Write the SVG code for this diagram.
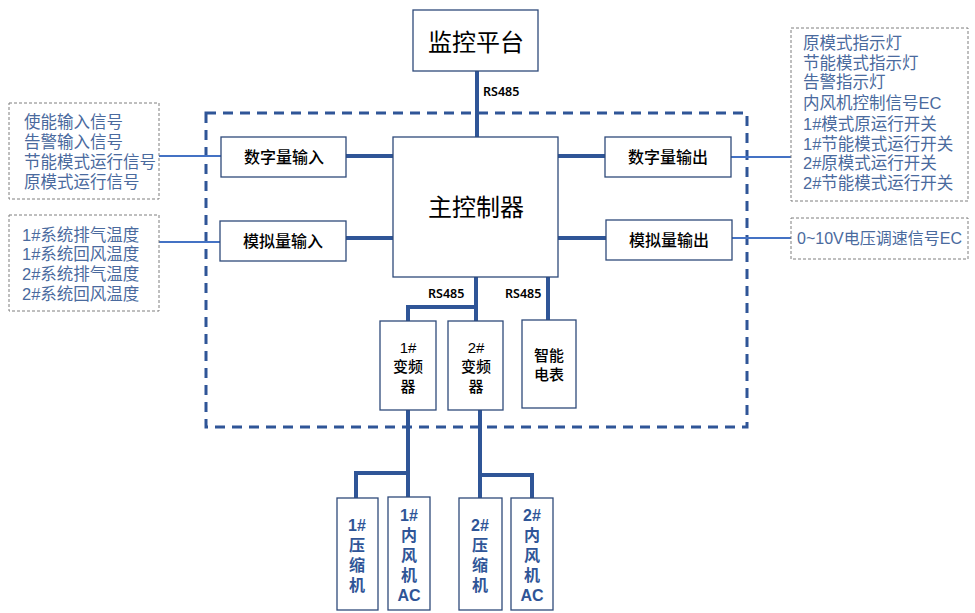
<svg xmlns="http://www.w3.org/2000/svg" width="975" height="613" viewBox="0 0 975 613">
<style>
.bg{fill:#fff}
.box{fill:#fff;stroke:#2F4A7A;stroke-width:1.3}
.sig{fill:#fff;stroke:#7F7F7F;stroke-width:1;stroke-dasharray:3 2}
.outer{fill:none;stroke:#2F5597;stroke-width:3;stroke-dasharray:10 7}
.thick{fill:none;stroke:#2F5597;stroke-width:4}
.thin{fill:none;stroke:#4472C4;stroke-width:2}
.big{font-family:"Noto Sans CJK SC",sans-serif;font-size:24px;fill:#000;text-anchor:middle}
.mid{font-family:"Noto Sans CJK SC",sans-serif;font-size:16px;font-weight:500;fill:#000;text-anchor:middle}
.small{font-family:"Liberation Sans","Noto Sans CJK SC",sans-serif;font-size:15px;font-weight:500;fill:#000;text-anchor:middle}
.list{font-family:"Liberation Sans","Noto Sans CJK SC",sans-serif;font-size:16.5px;fill:#4A6A9E}
.lbl{font-family:"Noto Sans",sans-serif;font-size:12.5px;font-weight:600;fill:#000}
.dev{font-family:"Liberation Sans","Noto Sans CJK SC",sans-serif;font-size:16px;font-weight:bold;fill:#2F5597;text-anchor:middle}
</style>
<rect class="bg" x="0" y="0" width="975" height="613"/>
<rect class="outer" x="206" y="113" width="541" height="314"/>
<g id="connectors">
<path class="thick" d="M477 71V137"/>
<path class="thick" d="M346 156H393M346 238H393M558 156H605M558 238H606"/>
<path class="thick" d="M476 277V321M476 307H408V321M548 277V320"/>
<path class="thick" d="M408 410V497M408 473H356V498M480 410V498M480 475H532V498"/>
<path class="thin" d="M159 156H221M159 242H220M731 157H791M732 238H791"/>
<text class="lbl" x="483" y="96">RS485</text>
<text class="lbl" x="428" y="298">RS485</text>
<text class="lbl" x="505" y="298">RS485</text>
</g>
<g id="platform"><rect class="box" x="413" y="10" width="125" height="61"/><text class="big" x="476" y="51">监控平台</text></g>
<g id="controller"><rect class="box" x="393" y="137" width="165" height="140"/><text class="big" x="476" y="216">主控制器</text></g>
<g id="di"><rect class="box" x="221" y="137" width="125" height="40"/><text class="mid" x="284" y="163">数字量输入</text></g>
<g id="ai"><rect class="box" x="220" y="221" width="126" height="40"/><text class="mid" x="283" y="247">模拟量输入</text></g>
<g id="do"><rect class="box" x="605" y="137" width="126" height="40"/><text class="mid" x="668" y="163">数字量输出</text></g>
<g id="ao"><rect class="box" x="606" y="220" width="126" height="40"/><text class="mid" x="669" y="246">模拟量输出</text></g>
<g id="sig-di"><rect class="sig" x="9" y="103" width="150" height="96"/>
<text class="list" x="24" y="128"><tspan x="24" y="128">使能输入信号</tspan><tspan x="24" y="148">告警输入信号</tspan><tspan x="24" y="168">节能模式运行信号</tspan><tspan x="24" y="188">原模式运行信号</tspan></text></g>
<g id="sig-ai"><rect class="sig" x="9" y="215" width="150" height="96"/>
<text class="list" x="22" y="241"><tspan x="22" y="241">1#系统排气温度</tspan><tspan x="22" y="260">1#系统回风温度</tspan><tspan x="22" y="280">2#系统排气温度</tspan><tspan x="22" y="300">2#系统回风温度</tspan></text></g>
<g id="sig-do"><rect class="sig" x="791" y="28" width="177" height="173"/>
<text class="list" x="803" y="49"><tspan x="803" y="49">原模式指示灯</tspan><tspan x="803" y="69">节能模式指示灯</tspan><tspan x="803" y="88">告警指示灯</tspan><tspan x="803" y="109">内风机控制信号EC</tspan><tspan x="803" y="130">1#模式原运行开关</tspan><tspan x="803" y="150">1#节能模式运行开关</tspan><tspan x="803" y="169">2#原模式运行开关</tspan><tspan x="803" y="189">2#节能模式运行开关</tspan></text></g>
<g id="sig-ao"><rect class="sig" x="791" y="218" width="177" height="41"/><text class="list" x="797" y="244" style="font-size:16px">0~10V电压调速信号EC</text></g>
<g id="vfd1"><rect class="box" x="380" y="321" width="56" height="89"/><text class="small" x="408" y="353"><tspan x="408" y="353">1#</tspan><tspan x="408" y="372">变频</tspan><tspan x="408" y="392">器</tspan></text></g>
<g id="vfd2"><rect class="box" x="448" y="321" width="55" height="89"/><text class="small" x="476" y="353"><tspan x="476" y="353">2#</tspan><tspan x="476" y="372">变频</tspan><tspan x="476" y="392">器</tspan></text></g>
<g id="meter"><rect class="box" x="522" y="320" width="54" height="88"/><text class="small" x="549" y="361"><tspan x="549" y="361">智能</tspan><tspan x="549" y="380">电表</tspan></text></g>
<g id="comp1"><rect class="box" x="337" y="498" width="41" height="112"/><text class="dev" x="357" y="531"><tspan x="357" y="531">1#</tspan><tspan x="357" y="551">压</tspan><tspan x="357" y="571">缩</tspan><tspan x="357" y="591">机</tspan></text></g>
<g id="fan1"><rect class="box" x="388" y="497" width="42" height="113"/><text class="dev" x="409" y="521"><tspan x="409" y="521">1#</tspan><tspan x="409" y="541">内</tspan><tspan x="409" y="561">风</tspan><tspan x="409" y="581">机</tspan><tspan x="409" y="601">AC</tspan></text></g>
<g id="comp2"><rect class="box" x="459" y="498" width="43" height="112"/><text class="dev" x="480" y="531"><tspan x="480" y="531">2#</tspan><tspan x="480" y="551">压</tspan><tspan x="480" y="571">缩</tspan><tspan x="480" y="591">机</tspan></text></g>
<g id="fan2"><rect class="box" x="511" y="498" width="42" height="112"/><text class="dev" x="532" y="521"><tspan x="532" y="521">2#</tspan><tspan x="532" y="541">内</tspan><tspan x="532" y="561">风</tspan><tspan x="532" y="581">机</tspan><tspan x="532" y="601">AC</tspan></text></g>
</svg>
